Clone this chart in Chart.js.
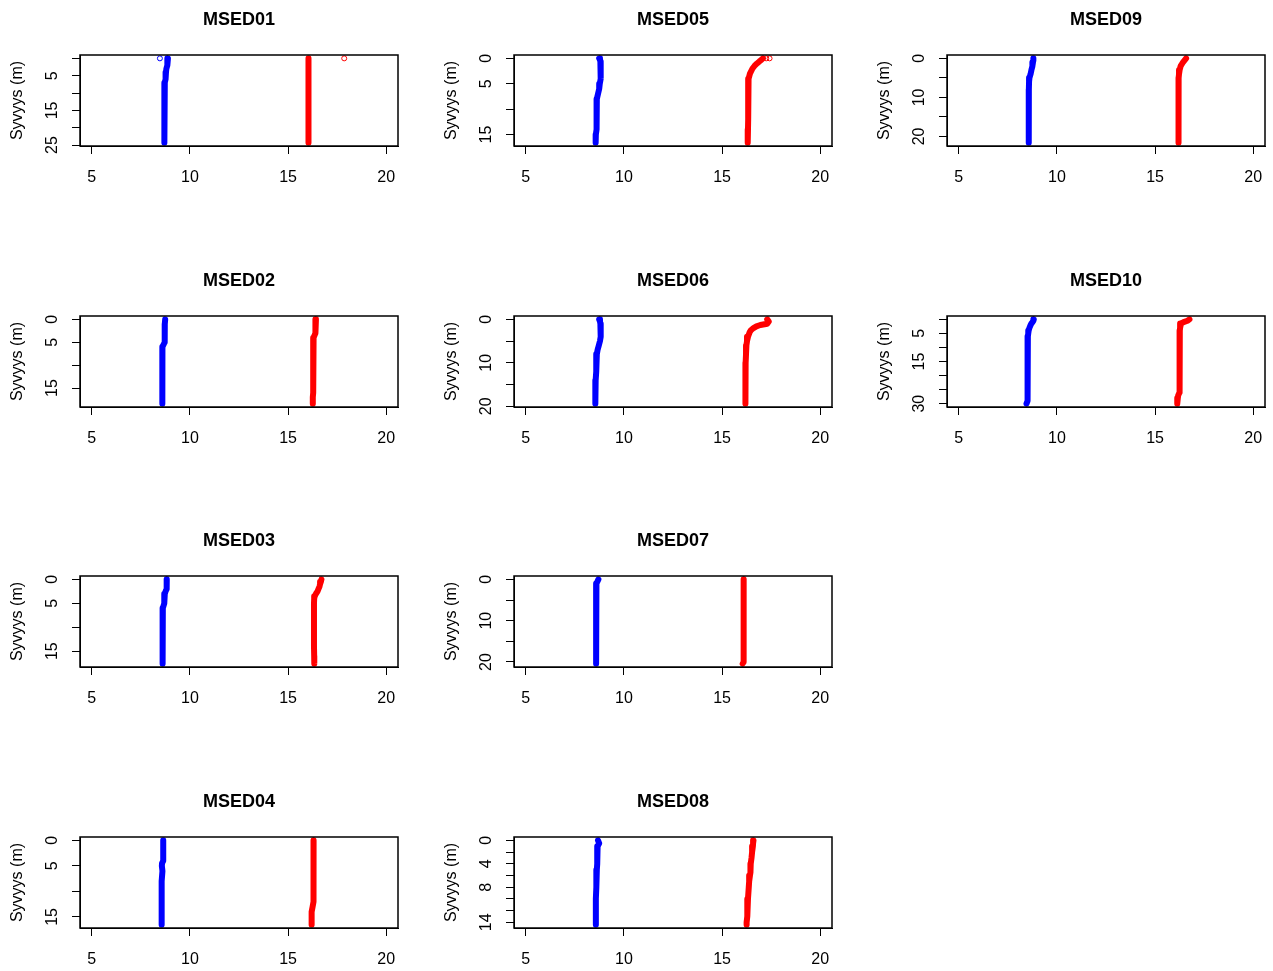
<!DOCTYPE html>
<html>
<head>
<meta charset="utf-8">
<script src="https://cdn.jsdelivr.net/npm/chart.js@4"></script>
<style>
html, body { margin: 0; padding: 0; background: #fff; overflow: hidden; width: 1273px; height: 971px; }
canvas { position: absolute; }
</style>
</head>
<body>
<script>
// Depth profiles: depth (m), blue series, red series
const depth01 = [0, 1, 2, 3, 4, 5, 6, 7, 8, 10, 12, 14, 16, 18, 20, 22, 23.5, 24.3];
const blue01  = [8.88, 8.86, 8.84, 8.8, 8.78, 8.78, 8.74, 8.72, 8.7, 8.7, 8.7, 8.7, 8.7, 8.7, 8.7, 8.7, 8.68, 8.7];
const red01   = [16.04, 16.04, 16.04, 16.04, 16.04, 16.04, 16.04, 16.04, 16.04, 16.04, 16.04, 16.04, 16.04, 16.04, 16.04, 16.04, 16.04, 16.04];

const depth02 = [0, 1, 2, 3, 4, 5, 6, 8, 10, 12, 14, 16, 17, 18.4];
const blue02  = [8.74, 8.72, 8.72, 8.72, 8.72, 8.7, 8.6, 8.6, 8.6, 8.6, 8.6, 8.6, 8.58, 8.58];
const red02   = [16.42, 16.4, 16.4, 16.38, 16.3, 16.29, 16.29, 16.28, 16.28, 16.28, 16.27, 16.27, 16.26, 16.26];

const depth03 = [0, 0.5, 1, 1.5, 2, 2.5, 3, 3.5, 4, 5, 6, 8, 10, 12, 14, 16, 17, 17.6];
const blue03  = [8.82, 8.82, 8.82, 8.82, 8.8, 8.76, 8.72, 8.7, 8.7, 8.68, 8.62, 8.62, 8.62, 8.62, 8.62, 8.6, 8.58, 8.6];
const red03   = [16.7, 16.67, 16.63, 16.6, 16.55, 16.5, 16.42, 16.36, 16.33, 16.32, 16.32, 16.32, 16.32, 16.32, 16.32, 16.33, 16.33, 16.34];

const depth04 = [0, 1, 2, 3, 4, 4.5, 5, 6, 8, 10, 12, 13, 14, 16, 16.5];
const blue04  = [8.64, 8.64, 8.64, 8.64, 8.64, 8.58, 8.57, 8.6, 8.56, 8.56, 8.56, 8.56, 8.56, 8.56, 8.56];
const red04   = [16.3, 16.3, 16.3, 16.3, 16.3, 16.3, 16.3, 16.3, 16.29, 16.29, 16.28, 16.25, 16.2, 16.2, 16.2];

const depth05 = [0, 0.3, 0.6, 1, 1.5, 2, 3, 4, 5, 6, 7, 8, 10, 12, 14, 15, 16, 16.6];
const blue05  = [8.74, 8.78, 8.8, 8.82, 8.82, 8.82, 8.82, 8.8, 8.77, 8.74, 8.68, 8.62, 8.61, 8.61, 8.6, 8.57, 8.56, 8.56];
const red05   = [17.08, 17.0, 16.9, 16.78, 16.65, 16.55, 16.42, 16.35, 16.33, 16.33, 16.33, 16.33, 16.33, 16.33, 16.32, 16.32, 16.3, 16.3];

const depth06 = [0, 0.5, 1, 1.3, 1.6, 2, 2.5, 3, 4, 5, 6, 7, 8, 10, 12, 14, 16, 18, 19.4];
const blue06  = [8.74, 8.78, 8.8, 8.82, 8.82, 8.82, 8.82, 8.82, 8.8, 8.78, 8.72, 8.66, 8.62, 8.58, 8.6, 8.56, 8.55, 8.54, 8.54];
const red06   = [17.3, 17.38, 17.3, 16.95, 16.75, 16.6, 16.47, 16.4, 16.32, 16.27, 16.24, 16.22, 16.22, 16.2, 16.21, 16.2, 16.19, 16.18, 16.17];

const depth07 = [0, 0.5, 1, 2, 4, 6, 8, 10, 12, 14, 16, 18, 20, 20.4];
const blue07  = [8.7, 8.65, 8.6, 8.59, 8.59, 8.59, 8.59, 8.58, 8.58, 8.58, 8.58, 8.58, 8.58, 8.58];
const red07   = [16.1, 16.1, 16.1, 16.1, 16.1, 16.1, 16.1, 16.1, 16.1, 16.1, 16.1, 16.1, 16.08, 16.05];

const depth08 = [0, 0.5, 1, 2, 3, 4, 5, 5.5, 6, 7, 8, 10, 12, 13, 14, 14.4];
const blue08  = [8.68, 8.74, 8.66, 8.64, 8.64, 8.64, 8.62, 8.62, 8.6, 8.58, 8.58, 8.57, 8.57, 8.57, 8.57, 8.57];
const red08   = [16.6, 16.58, 16.57, 16.53, 16.5, 16.46, 16.45, 16.44, 16.42, 16.38, 16.36, 16.32, 16.3, 16.27, 16.25, 16.25];

const depth09 = [0, 0.5, 1, 1.5, 2, 3, 4, 5, 6, 8, 10, 12, 14, 16, 18, 20, 21, 21.6];
const blue09  = [8.8, 8.8, 8.78, 8.76, 8.74, 8.7, 8.66, 8.6, 8.58, 8.57, 8.57, 8.57, 8.57, 8.57, 8.57, 8.56, 8.55, 8.56];
const red09   = [16.58, 16.5, 16.42, 16.36, 16.3, 16.25, 16.22, 16.2, 16.2, 16.2, 16.2, 16.2, 16.2, 16.2, 16.2, 16.2, 16.18, 16.17];

const depth10 = [0, 0.5, 1, 1.5, 2, 3, 4, 5, 6, 8, 10, 12, 15, 18, 20, 22, 24, 26, 27, 28, 29, 30];
const blue10  = [8.82, 8.8, 8.75, 8.7, 8.66, 8.6, 8.56, 8.54, 8.52, 8.52, 8.52, 8.52, 8.52, 8.5, 8.5, 8.5, 8.5, 8.5, 8.5, 8.5, 8.48, 8.45];
const red10   = [16.75, 16.65, 16.45, 16.32, 16.28, 16.27, 16.26, 16.26, 16.26, 16.26, 16.25, 16.25, 16.25, 16.25, 16.25, 16.25, 16.24, 16.22, 16.18, 16.16, 16.14, 16.12];

// isolated surface readings drawn as open circles
const blueOpen01 = [8.47];
const redOpen01  = [17.86];
const redOpen05  = [17.25, 17.42];

// axis ticks
const xTicks = [5, 10, 15, 20];
const yTicks01 = [0, 5, 10, 15, 20, 25];  const yLabels01 = [5, 15, 25];
const yTicks02 = [0, 5, 10, 15];          const yLabels02 = [0, 5, 15];
const yTicks03 = [0, 5, 10, 15];          const yLabels03 = [0, 5, 15];
const yTicks04 = [0, 5, 10, 15];          const yLabels04 = [0, 5, 15];
const yTicks05 = [0, 5, 10, 15];          const yLabels05 = [0, 5, 15];
const yTicks06 = [0, 5, 10, 15, 20];      const yLabels06 = [0, 10, 20];
const yTicks07 = [0, 5, 10, 15, 20];      const yLabels07 = [0, 10, 20];
const yTicks08 = [0, 2, 4, 6, 8, 10, 12, 14]; const yLabels08 = [0, 4, 8, 14];
const yTicks09 = [0, 5, 10, 15, 20];      const yLabels09 = [0, 10, 20];
const yTicks10 = [0, 5, 10, 15, 20, 25, 30]; const yLabels10 = [5, 15, 30];

const FONT = '"Liberation Sans", Arial, sans-serif';

const panels = [
    { name: 'MSED01', col: 0, row: 0, depth: depth01, blue: blue01, red: red01, ticks: yTicks01, labels: yLabels01,
      blueOpen: blueOpen01.map(v => ({ x: v, y: 0 })), redOpen: redOpen01.map(v => ({ x: v, y: 0 })) },
    { name: 'MSED02', col: 0, row: 1, depth: depth02, blue: blue02, red: red02, ticks: yTicks02, labels: yLabels02 },
    { name: 'MSED03', col: 0, row: 2, depth: depth03, blue: blue03, red: red03, ticks: yTicks03, labels: yLabels03 },
    { name: 'MSED04', col: 0, row: 3, depth: depth04, blue: blue04, red: red04, ticks: yTicks04, labels: yLabels04 },
    { name: 'MSED05', col: 1, row: 0, depth: depth05, blue: blue05, red: red05, ticks: yTicks05, labels: yLabels05,
      redOpen: redOpen05.map(v => ({ x: v, y: 0 })) },
    { name: 'MSED06', col: 1, row: 1, depth: depth06, blue: blue06, red: red06, ticks: yTicks06, labels: yLabels06 },
    { name: 'MSED07', col: 1, row: 2, depth: depth07, blue: blue07, red: red07, ticks: yTicks07, labels: yLabels07 },
    { name: 'MSED08', col: 1, row: 3, depth: depth08, blue: blue08, red: red08, ticks: yTicks08, labels: yLabels08 },
    { name: 'MSED09', col: 2, row: 0, depth: depth09, blue: blue09, red: red09, ticks: yTicks09, labels: yLabels09 },
    { name: 'MSED10', col: 2, row: 1, depth: depth10, blue: blue10, red: red10, ticks: yTicks10, labels: yLabels10 }
];

// frame around the plot region, like R's box()
const boxPlugin = {
    id: 'box',
    afterDraw(chart) {
        const { ctx, chartArea: a } = chart;
        ctx.save();
        ctx.strokeStyle = '#000';
        ctx.lineWidth = 1.5;
        ctx.strokeRect(a.left, a.top, a.right - a.left, a.bottom - a.top);
        ctx.restore();
    }
};

// y tick labels drawn parallel to the axis
const yLabelPlugin = {
    id: 'yLabels',
    afterDraw(chart, args, opts) {
        const scale = chart.scales.y;
        const ctx = chart.ctx;
        ctx.save();
        ctx.fillStyle = '#000';
        ctx.font = '16px ' + FONT;
        ctx.textAlign = 'center';
        ctx.textBaseline = 'middle';
        opts.labels.forEach(v => {
            ctx.save();
            ctx.translate(chart.chartArea.left - 27, scale.getPixelForValue(v));
            ctx.rotate(-Math.PI / 2);
            ctx.fillText(String(v), 0, 0);
            ctx.restore();
        });
        ctx.restore();
    }
};

function profile(depth, vals, color) {
    return {
        data: depth.map((d, i) => ({ x: vals[i], y: d })),
        showLine: true,
        borderColor: color,
        borderWidth: 6,
        borderCapStyle: 'round',
        borderJoinStyle: 'round',
        pointRadius: 0,
        tension: 0
    };
}

function openPoints(points, color) {
    return {
        data: points,
        showLine: false,
        pointRadius: 2.5,
        pointBorderWidth: 1,
        pointBorderColor: color,
        pointBackgroundColor: 'rgba(0,0,0,0)'
    };
}

panels.forEach(p => {
    const canvas = document.createElement('canvas');
    canvas.width = 410;
    canvas.height = 200;
    canvas.style.left = Math.round(p.col * 433.5) + 'px';
    canvas.style.top = Math.round(p.row * 260.7) + 'px';
    document.body.appendChild(canvas);

    const maxDepth = p.depth[p.depth.length - 1];
    const datasets = [profile(p.depth, p.blue, '#0000FF'), profile(p.depth, p.red, '#FF0000')];
    if (p.blueOpen) datasets.push(openPoints(p.blueOpen, '#0000FF'));
    if (p.redOpen) datasets.push(openPoints(p.redOpen, '#FF0000'));

    new Chart(canvas, {
        type: 'scatter',
        data: { datasets: datasets },
        plugins: [boxPlugin, yLabelPlugin],
        options: {
            responsive: false,
            devicePixelRatio: 1,
            animation: false,
            events: [],
            layout: { padding: { left: 0, right: 12, top: 0, bottom: 0 } },
            plugins: {
                legend: { display: false },
                tooltip: { enabled: false },
                title: {
                    display: true,
                    text: p.name,
                    fullSize: false,
                    color: '#000',
                    font: { family: FONT, size: 18, weight: 'bold' },
                    padding: { top: 9.5, bottom: 23.9 }
                },
                yLabels: { labels: p.labels }
            },
            scales: {
                x: {
                    type: 'linear',
                    min: 4.4,
                    max: 20.6,
                    afterBuildTicks: s => { s.ticks = xTicks.map(v => ({ value: v })); },
                    afterFit: s => { s.height = 54; },
                    grid: { drawOnChartArea: false, drawTicks: true, tickLength: 8, color: '#000' },
                    border: { display: true, color: '#000', width: 1 },
                    ticks: { color: '#000', font: { family: FONT, size: 16 }, padding: 14, maxRotation: 0, autoSkip: false }
                },
                y: {
                    type: 'linear',
                    reverse: true,
                    min: -0.04 * maxDepth,
                    max: 1.04 * maxDepth,
                    afterBuildTicks: s => { s.ticks = p.ticks.map(v => ({ value: v })); },
                    afterFit: s => { s.width = 80; },
                    grid: { drawOnChartArea: false, drawTicks: true, tickLength: 8, color: '#000' },
                    border: { display: true, color: '#000', width: 1 },
                    ticks: { display: false },
                    title: {
                        display: true,
                        text: 'Syvyys (m)',
                        color: '#000',
                        font: { family: FONT, size: 16 },
                        padding: { top: 8, bottom: 0 }
                    }
                }
            }
        }
    });
});
</script>
</body>
</html>
